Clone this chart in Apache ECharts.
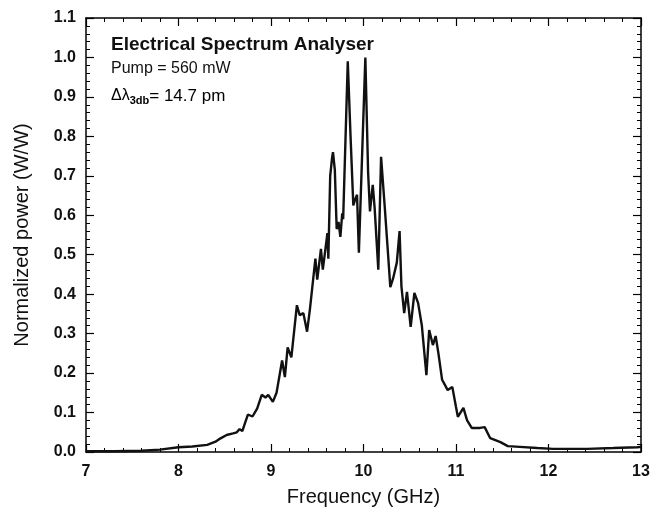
<!DOCTYPE html>
<html>
<head>
<meta charset="utf-8">
<script src="https://cdn.jsdelivr.net/npm/echarts@6/dist/echarts.min.js"></script>
<style>html,body{margin:0;padding:0;background:#fff}#c{width:656px;height:519px}</style>
</head>
<body>
<div id="c"></div>
<script>
// Frequency (GHz)
var freq = [7.0, 7.3, 7.6, 7.8, 8.0, 8.15, 8.31, 8.4, 8.45, 8.52, 8.59, 8.63, 8.66, 8.69, 8.75, 8.8, 8.85, 8.9, 8.94, 8.97,
  9.02, 9.06, 9.12, 9.15, 9.18, 9.22, 9.28, 9.31, 9.35, 9.39, 9.42, 9.48, 9.50, 9.54, 9.56, 9.61, 9.62, 9.64, 9.66, 9.67,
  9.69, 9.71, 9.73, 9.75, 9.77, 9.78, 9.83, 9.86, 9.89, 9.91, 9.93, 9.95, 10.02, 10.05, 10.07, 10.10, 10.12, 10.16, 10.19,
  10.23, 10.26, 10.29, 10.32, 10.36, 10.39, 10.41, 10.44, 10.47, 10.51, 10.55, 10.59, 10.63, 10.68, 10.71, 10.75, 10.78,
  10.81, 10.85, 10.88, 10.91, 10.96, 11.0, 11.02, 11.08, 11.12, 11.17, 11.26, 11.31, 11.37, 11.48, 11.56, 11.69, 11.88,
  12.05, 12.42, 12.7, 12.96, 13.0];
// Normalized power (W/W)
var power = [0.002, 0.002, 0.003, 0.006, 0.012, 0.014, 0.018, 0.026, 0.034, 0.043, 0.047, 0.05, 0.058, 0.053, 0.095, 0.09, 0.11, 0.145, 0.138, 0.145,
  0.127, 0.15, 0.232, 0.19, 0.265, 0.24, 0.372, 0.347, 0.352, 0.305, 0.36, 0.49, 0.437, 0.515, 0.462, 0.555, 0.49, 0.70, 0.745, 0.76,
  0.715, 0.565, 0.583, 0.545, 0.605, 0.59, 0.99, 0.80, 0.625, 0.64, 0.652, 0.505, 1.0, 0.707, 0.61, 0.677, 0.62, 0.462, 0.748,
  0.62, 0.52, 0.418, 0.44, 0.48, 0.56, 0.42, 0.352, 0.406, 0.317, 0.403, 0.378, 0.322, 0.195, 0.309, 0.271, 0.294,
  0.25, 0.183, 0.17, 0.157, 0.165, 0.114, 0.089, 0.112, 0.08, 0.061, 0.061, 0.063, 0.035, 0.025, 0.015, 0.013, 0.010,
  0.008, 0.008, 0.010, 0.012, 0.013];

var xTitle = 'Frequency (GHz)';
var yTitle = 'Normalized power (W/W)';
var note1 = 'Electrical Spectrum Analyser';
var note2 = 'Pump = 560 mW';

var pts = freq.map(function (f, i) { return [f, power[i]]; });
var font = 'Liberation Sans, Arial, sans-serif';

var chart = echarts.init(document.getElementById('c'));
var baseX = {
  type: 'value', min: 7, max: 13, interval: 1,
  axisLine: { show: true, onZero: false, lineStyle: { color: '#000', width: 1.5 } },
  axisTick: { show: true, inside: true, length: 8, lineStyle: { color: '#000', width: 1.2 } },
  minorTick: { show: true, splitNumber: 5, length: 4, lineStyle: { color: '#000', width: 1 } },
  splitLine: { show: false }
};
var baseY = {
  type: 'value', min: 0, max: 1.1, interval: 0.1,
  axisLine: { show: true, onZero: false, lineStyle: { color: '#000', width: 1.5 } },
  axisTick: { show: true, inside: true, length: 8, lineStyle: { color: '#000', width: 1.2 } },
  minorTick: { show: true, splitNumber: 5, length: 4, lineStyle: { color: '#000', width: 1 } },
  splitLine: { show: false }
};
chart.setOption({
  animation: false,
  backgroundColor: '#fff',
  grid: { left: 86, right: 15, top: 18, bottom: 67 },
  xAxis: [
    Object.assign({}, baseX, {
      position: 'bottom',
      name: xTitle, nameLocation: 'middle', nameGap: 35,
      nameTextStyle: { fontFamily: font, fontSize: 20, color: '#111' },
      axisLabel: { show: true, margin: 12, fontFamily: font, fontSize: 16, fontWeight: 'bold', color: '#111',
        formatter: function (v) { return String(v); } }
    }),
    Object.assign({}, baseX, { position: 'top', axisLabel: { show: false } })
  ],
  yAxis: [
    Object.assign({}, baseY, {
      position: 'left',
      name: yTitle, nameLocation: 'middle', nameGap: 54,
      nameTextStyle: { fontFamily: font, fontSize: 20, color: '#111' },
      axisLabel: { show: true, margin: 10, fontFamily: font, fontSize: 16, fontWeight: 'bold', color: '#111',
        formatter: function (v) { return v.toFixed(1); } }
    }),
    Object.assign({}, baseY, { position: 'right', axisLabel: { show: false } })
  ],
  series: [{
    type: 'line', data: pts, xAxisIndex: 0, yAxisIndex: 0,
    symbol: 'none', smooth: false,
    lineStyle: { color: '#111', width: 2.4 }
  }],
  graphic: [
    { type: 'text', left: 111, top: 35, style: { text: note1, font: 'bold 19px ' + font, fill: '#111' } },
    { type: 'text', left: 111, top: 61, style: { text: note2, font: '16px ' + font, fill: '#111' } },
    { type: 'text', left: 111, top: 84, style: {
      text: '{a|Δλ}{s|3db}{b|= 14.7 pm}',
      rich: {
        a: { fontFamily: font, fontSize: 16, color: '#111', verticalAlign: 'top', lineHeight: 18 },
        b: { fontFamily: font, fontSize: 17, color: '#111', verticalAlign: 'top', lineHeight: 18 },
        s: { fontFamily: font, fontSize: 11, fontWeight: 'bold', color: '#111', verticalAlign: 'bottom', lineHeight: 18, padding: [11, 0, 0, 0] }
      }
    } }
  ]
});
</script>
</body>
</html>
